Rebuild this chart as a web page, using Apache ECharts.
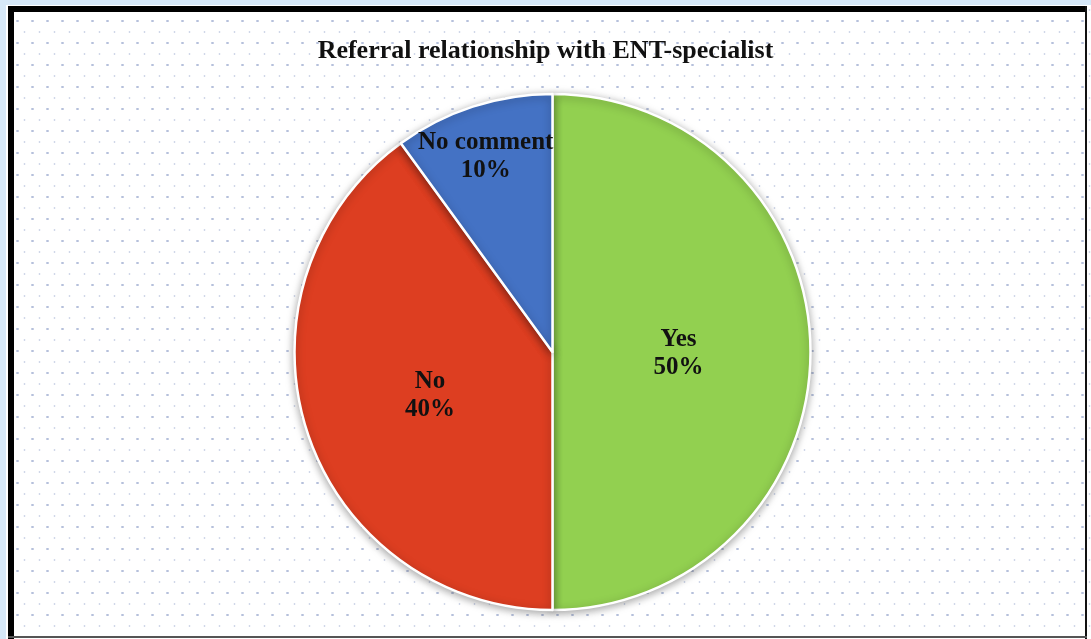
<!DOCTYPE html>
<html>
<head>
<meta charset="utf-8">
<script src="https://cdn.jsdelivr.net/npm/echarts@6/dist/echarts.min.js"></script>
<style>
  html, body { margin: 0; padding: 0; background: #fff; }
  #chart {
    width: 1091px; height: 639px;
    background-color: #fff;
    background-image:
      radial-gradient(circle, rgba(120,140,190,0.55) 1px, transparent 1.4px),
      radial-gradient(circle, rgba(120,140,190,0.35) 0.8px, transparent 1.2px);
    background-size: 15px 22px, 15px 22px;
    background-position: 10px 10px, 17px 21px;
  }
</style>
</head>
<body>
<div id="chart"></div>
<script>
const categories = ['Yes', 'No', 'No comment']
const percents = [50, 40, 10]
const colors = ['#92D050', '#DD3E21', '#4472C4']

const chart = echarts.init(document.getElementById('chart'))

const option = {
  backgroundColor: 'transparent',
  animation: false,
  title: {
    text: 'Referral relationship with ENT-specialist',
    left: 'center',
    top: 33,
    textStyle: {
      fontFamily: 'Liberation Serif',
      fontWeight: 'bold',
      fontSize: 26,
      color: '#111'
    }
  },
  graphic: [
    { type: 'rect', shape: { x: 0, y: 0, width: 1091, height: 5 }, style: { fill: '#d6e8f8' }, silent: true },
    { type: 'rect', shape: { x: 0, y: 0, width: 6, height: 639 }, style: { fill: '#d6e8f8' }, silent: true },
    { type: 'rect', shape: { x: 8, y: 6, width: 1079, height: 6 }, style: { fill: '#000' }, silent: true },
    { type: 'rect', shape: { x: 8, y: 6, width: 6, height: 633 }, style: { fill: '#000' }, silent: true },
    { type: 'rect', shape: { x: 1085, y: 6, width: 2, height: 633 }, style: { fill: '#111' }, silent: true },
    { type: 'rect', shape: { x: 8, y: 636, width: 1079, height: 2 }, style: { fill: '#555' }, silent: true }
  ],
  series: [
    {
      type: 'pie',
      center: [552.5, 352],
      radius: 258,
      startAngle: 90,
      clockwise: true,
      label: {
        show: true,
        position: 'inside',
        formatter: p => p.name + '\n' + p.value + '%',
        fontFamily: 'Liberation Serif',
        fontWeight: 'bold',
        fontSize: 25,
        lineHeight: 28,
        color: '#111'
      },
      labelLayout: params => {
        if (params.dataIndex === 0) return { dx: -6, dy: 2 }
        if (params.dataIndex === 1) return { dx: 3, dy: 3 }
        return { dx: -26, dy: -70 }
      },
      labelLine: { show: false },
      itemStyle: {
        borderColor: '#fff',
        borderWidth: 2.5,
        shadowBlur: 8,
        shadowColor: 'rgba(0,0,0,0.35)',
        shadowOffsetY: 2
      },
      emphasis: { disabled: true },
      data: categories.map((c, i) => ({
        name: c,
        value: percents[i],
        itemStyle: { color: colors[i] }
      }))
    }
  ]
}

chart.setOption(option)
</script>
</body>
</html>
